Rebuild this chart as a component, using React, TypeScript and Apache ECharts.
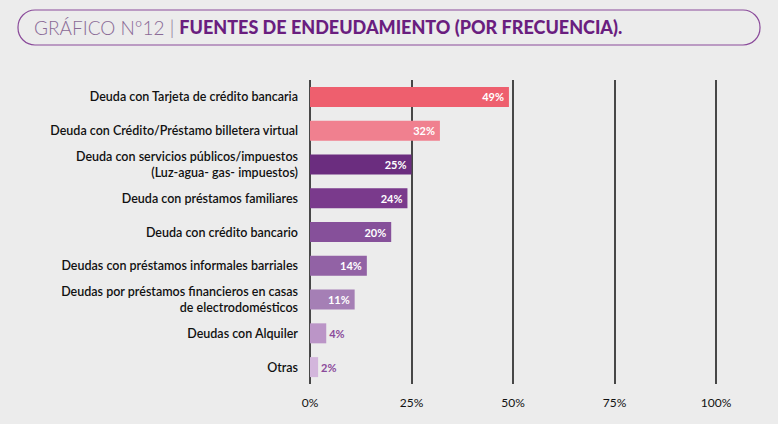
import React, { useEffect, useRef } from 'react';
import * as echarts from 'echarts';

const categories = [
  'Deuda con Tarjeta de crédito bancaria',
  'Deuda con Crédito/Préstamo billetera virtual',
  'Deuda con servicios públicos/impuestos\n(Luz-agua- gas- impuestos)',
  'Deuda con préstamos familiares',
  'Deuda con crédito bancario',
  'Deudas con préstamos informales barriales',
  'Deudas por préstamos financieros en casas\nde electrodomésticos',
  'Deudas con Alquiler',
  'Otras',
];
const values = [49, 32, 25, 24, 20, 14, 11, 4, 2];
const barColors = ['#ee5f6e', '#f0808f', '#6b2d7f', '#7a3a8c', '#86509a', '#9262a5', '#a57fb5', '#bb95c7', '#d3b6dc'];
const ticks = [0, 25, 50, 75, 100];

export default function App() {
  const ref = useRef<HTMLDivElement>(null);

  useEffect(() => {
    if (!ref.current) return;
    const chart = echarts.init(ref.current, null, { renderer: 'svg' });
    chart.setOption({
      animation: false,
      backgroundColor: '#ececec',
      textStyle: { fontFamily: 'Lato' },
      graphic: [
        {
          type: 'rect',
          shape: { x: 18, y: 10, width: 742, height: 35, r: 17 },
          style: { fill: 'none', stroke: '#8a4a9a', lineWidth: 1.2 },
        },
        {
          type: 'text',
          x: 34,
          y: 27,
          style: {
            text: '{a|GRÁFICO Nº12 | }{b|FUENTES DE ENDEUDAMIENTO (POR FRECUENCIA).}',
            verticalAlign: 'middle',
            rich: {
              a: { fontFamily: 'Lato', fontSize: 19, fontWeight: 300, fill: '#8a6a96' },
              b: { fontFamily: 'Lato', fontSize: 18, fontWeight: 900, fill: '#6a1e7f' },
            },
          },
        },
      ],
      grid: { left: 310, right: 62, top: 80, bottom: 40 },
      xAxis: {
        type: 'value',
        min: 0,
        max: 100,
        interval: 25,
        axisLine: { show: false },
        axisTick: { show: false },
        axisLabel: {
          color: '#111',
          fontSize: 12,
          fontWeight: 'normal',
          margin: 12,
          formatter: (v: number) => (ticks.includes(v) ? `${v}%` : ''),
        },
        splitLine: { show: true, lineStyle: { color: '#111', width: 1.5 } },
      },
      yAxis: {
        type: 'category',
        data: categories,
        inverse: true,
        axisLine: { show: false },
        axisTick: { show: false },
        axisLabel: { color: '#111', fontSize: 12.5, fontWeight: 600, margin: 12, lineHeight: 16, align: 'right' },
      },
      series: [
        {
          type: 'bar',
          barWidth: 20,
          data: values.map((v, i) => ({
            value: v,
            itemStyle: { color: barColors[i] },
            label: v >= 10
              ? { position: 'insideRight', color: '#fff' }
              : { position: 'right', color: '#8a4a9a', distance: 3 },
          })),
          label: {
            show: true,
            fontSize: 11,
            fontWeight: 'bold',
            formatter: '{c}%',
          },
        },
      ],
    });
    return () => chart.dispose();
  }, []);

  return <div ref={ref} style={{ position: 'absolute', left: 0, top: 0, width: 778, height: 424 }} />;
}
